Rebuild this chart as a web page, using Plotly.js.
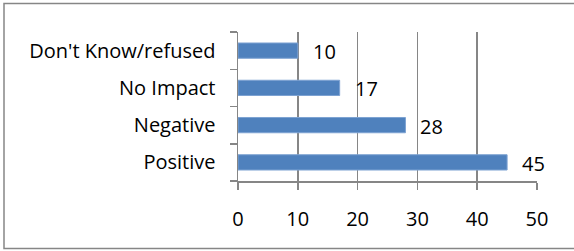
<!DOCTYPE html>
<html>
<head>
<meta charset="utf-8">
<script src="https://cdn.plot.ly/plotly-3.0.1.min.js"></script>
<style>html,body{margin:0;padding:0;background:#fff;}#chart{width:574px;height:251px;}</style>
</head>
<body>
<div id="chart"></div>
<script>
const categories = ['Positive', 'Negative', 'No Impact', "Don't Know/refused"];
const values = [45, 28, 17, 10];
const xTicks = [0, 10, 20, 30, 40, 50];

const W = 574, H = 251;
const margin = {l: 238, r: 37, t: 32, b: 70};
const pw = W - margin.l - margin.r, ph = H - margin.t - margin.b;
const px = v => (v - margin.l) / pw;
const py = v => 1 - (v - margin.t) / ph;

const font = {family: '"Open Sans", "Noto Sans", sans-serif', size: 20, color: '#000'};
const gray = '#868686';

const trace = {
  type: 'bar',
  orientation: 'h',
  x: values,
  y: categories,
  marker: {color: '#4F81BD', line: {color: '#7DA2D2', width: 1}},
  hoverinfo: 'none'
};

const annotations = values.map((v, i) => ({
  x: v, y: categories[i], xref: 'x', yref: 'y',
  text: String(v), showarrow: false, xanchor: 'left', yanchor: 'middle',
  xshift: 13, yshift: -1, font: font
}));

const layout = {
  width: W, height: H,
  margin: margin,
  paper_bgcolor: '#fff', plot_bgcolor: '#fff',
  showlegend: false,
  bargap: 0.59,
  font: font,
  xaxis: {
    range: [0, 50], tickvals: xTicks, ticktext: xTicks.map(String),
    showgrid: true, gridcolor: gray, gridwidth: 1.5,
    zeroline: false, showline: true, linecolor: gray, linewidth: 1.5,
    ticks: 'outside', ticklen: 7, tickcolor: gray, tickwidth: 1.5,
    ticklabelstandoff: 12, tickfont: font, fixedrange: true
  },
  yaxis: {
    type: 'category', tickson: 'boundaries',
    showgrid: false, zeroline: false, showline: true, linecolor: gray, linewidth: 1.5,
    ticks: 'outside', ticklen: 7, tickcolor: gray, tickwidth: 1.5,
    ticklabelstandoff: 17, tickfont: font, fixedrange: true
  },
  annotations: annotations,
  shapes: [{
    type: 'rect', xref: 'paper', yref: 'paper',
    x0: px(4), x1: px(580), y0: py(248.5), y1: py(3.5),
    line: {color: gray, width: 1.5}, fillcolor: 'rgba(0,0,0,0)', layer: 'above'
  }]
};

Plotly.newPlot('chart', [trace], layout, {displayModeBar: false, staticPlot: true});
</script>
</body>
</html>
